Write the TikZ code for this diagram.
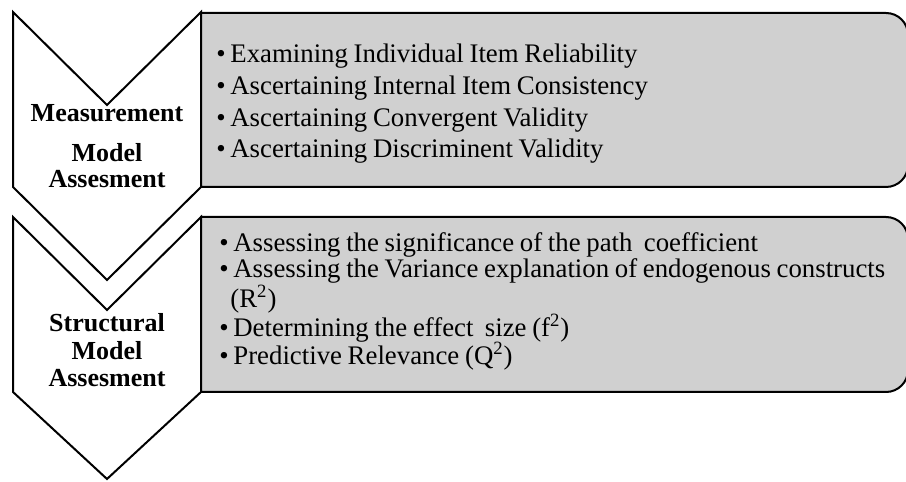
\documentclass[tikz,border=0pt]{standalone}
\usepackage{fontspec}
\setmainfont[WordSpace=0.85]{Liberation Serif}
\definecolor{PanelGray}{RGB}{208,208,208}
\newcommand{\bul}{\makebox[7pt][l]{•}}
\tikzset{
  chevron/.style={draw=black,line width=1pt,fill=white,line join=miter},
  panel/.style={draw=black,line width=1pt,fill=PanelGray},
  stage/.style={font=\fontsize{13}{14}\selectfont\bfseries,inner sep=0pt,
    anchor=base},
  item/.style={font=\fontsize{13.4}{16}\selectfont,inner sep=0pt,
    anchor=base west}
}

\begin{document}
\begin{tikzpicture}[x=0.5pt,y=0.5pt]
\useasboundingbox (0,0) rectangle (906,482);

% measurement model
\draw[chevron] (13,470) -- (107,377) -- (201,470) -- (201,295)
  -- (107,202) -- (13,295) -- cycle;
\draw[panel] (201,295) -- (201,469) -- (886,469)
  arc[start angle=90,end angle=0,radius=22] -- (908,317)
  arc[start angle=0,end angle=-90,radius=22] -- cycle;

\node[stage] (mlab1) at (107,360) {Measurement};
\node[stage] (mlab2) at (107,320) {Model};
\node[stage] (mlab3) at (107,294) {Assesment};

\node[item] (mi1) at (216,419) {\bul Examining Individual Item Reliability};
\node[item] (mi2) at (216,387) {\bul Ascertaining Internal Item Consistency};
\node[item] (mi3) at (216,355) {\bul Ascertaining Convergent Validity};
\node[item] (mi4) at (216,324) {\bul Ascertaining Discriminent Validity};

% structural model
\draw[chevron] (13,265) -- (107,172) -- (201,265) -- (201,90)
  -- (107,3) -- (13,90) -- cycle;
\draw[panel] (201,90) -- (201,265) -- (886,265)
  arc[start angle=90,end angle=0,radius=22] -- (908,112)
  arc[start angle=0,end angle=-90,radius=22] -- cycle;

\node[stage] (slab1) at (107,150) {Structural};
\node[stage] (slab2) at (107,122) {Model};
\node[stage] (slab3) at (107,95) {Assesment};

\node[item] (si1) at (219,230) {\bul Assessing the significance of the path\ \ coefficient};
\node[item] (si2) at (219,204) {\bul Assessing the Variance explanation of endogenous constructs};
\node[item] (si2b) at (230,174) {(R\textsuperscript{2})};
\node[item] (si3) at (219,145) {\bul Determining the effect\ \ size (f\textsuperscript{2})};
\node[item] (si4) at (219,117) {\bul Predictive Relevance (Q\textsuperscript{2})};

\end{tikzpicture}
\end{document}
